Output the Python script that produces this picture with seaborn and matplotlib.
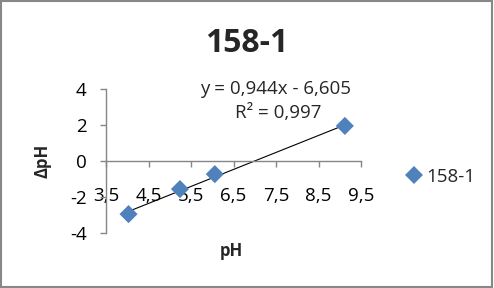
import numpy as np
import pandas as pd
import matplotlib
matplotlib.use("Agg")
import matplotlib.pyplot as plt
import seaborn as sns
from matplotlib.patches import Rectangle

# Data
ph = [4.03, 5.24, 6.06, 9.12]
dph = [-2.95, -1.56, -0.73, 1.95]
series_name = "158-1"
slope = 0.944
intercept = -6.605
eq_text = "y = 0,944x - 6,605"
r2_text = "R² = 0,997"
x_ticks = [3.5, 4.5, 5.5, 6.5, 7.5, 8.5, 9.5]
x_tick_labels = ["3,5", "4,5", "5,5", "6,5", "7,5", "8,5", "9,5"]
y_ticks = [-4, -2, 0, 2, 4]
y_tick_labels = ["-4", "-2", "0", "2", "4"]

sns.set_theme(style="white")
plt.rcParams['font.family'] = ['Open Sans', 'DejaVu Sans']

W, H = 494, 288
fig = plt.figure(figsize=(W / 100, H / 100), dpi=100)
fig.patch.set_facecolor("white")

def px(x, y):
    return x / W, 1 - y / H

ax_l, ax_r, ax_t, ax_b = 106, 361, 89, 233
ax = fig.add_axes([ax_l / W, 1 - ax_b / H, (ax_r - ax_l) / W, (ax_b - ax_t) / H])
ax.set_facecolor("none")

df = pd.DataFrame({"pH": ph, "dpH": dph, "series": series_name})

# trendline
xs = np.array([min(ph), max(ph)])
ax.plot(xs, slope * xs + intercept, color="black", lw=0.8, zorder=2)

sns.scatterplot(data=df, x="pH", y="dpH", hue="series", palette=["#4F81BD"],
                marker="D", s=85, edgecolor="#4F81BD", linewidth=0, ax=ax, zorder=3,
                legend=True)

ax.set_xlim(3.5, 9.5)
ax.set_ylim(-4, 4)
ax.set_xticks(x_ticks)
ax.set_xticklabels(x_tick_labels)
ax.set_yticks(y_ticks)
ax.set_yticklabels(y_tick_labels)
ax.set_xlabel("")
ax.set_ylabel("")

for s in ["top", "right"]:
    ax.spines[s].set_visible(False)
ax.spines["bottom"].set_position(("data", 0))
ax.spines["left"].set_position(("data", 3.5))
for s in ["bottom", "left"]:
    ax.spines[s].set_color("#868686")
    ax.spines[s].set_linewidth(1.0)
ax.tick_params(axis="both", direction="out", length=4.5, width=1.0, color="#868686",
               labelsize=13.5, labelcolor="#000000")
ax.tick_params(axis="x", bottom=True, pad=14.5)
ax.tick_params(axis="y", left=True, pad=9.5)
ax.grid(False)

# legend
handles, labels = ax.get_legend_handles_labels()
ax.get_legend().remove()
fig.legend(handles, labels, loc="center left", bbox_to_anchor=px(395, 177),
           frameon=False, fontsize=13.5, handletextpad=0.05, markerscale=1.0,
           borderaxespad=0, handlelength=1.2)

# texts
fig.text(*px(247, 43), "158-1", ha="center", va="center", fontsize=23, fontweight="bold")
fig.text(*px(276, 89), eq_text, ha="center", va="center", fontsize=13.5)
fig.text(*px(278, 113), r2_text, ha="center", va="center", fontsize=13.5)
fig.text(*px(231, 251), "pH", ha="center", va="center", fontsize=12, fontweight="bold")
fig.text(*px(42, 161), "ΔpH", ha="center", va="center", fontsize=12, fontweight="bold",
         rotation=90)

# chart border
fig.patches.append(Rectangle((1 / W, 1 / H), 491 / W, 286 / H, transform=fig.transFigure,
                             fill=False, edgecolor="#878787", linewidth=1.5))

fig.savefig("out.png", dpi=100)
